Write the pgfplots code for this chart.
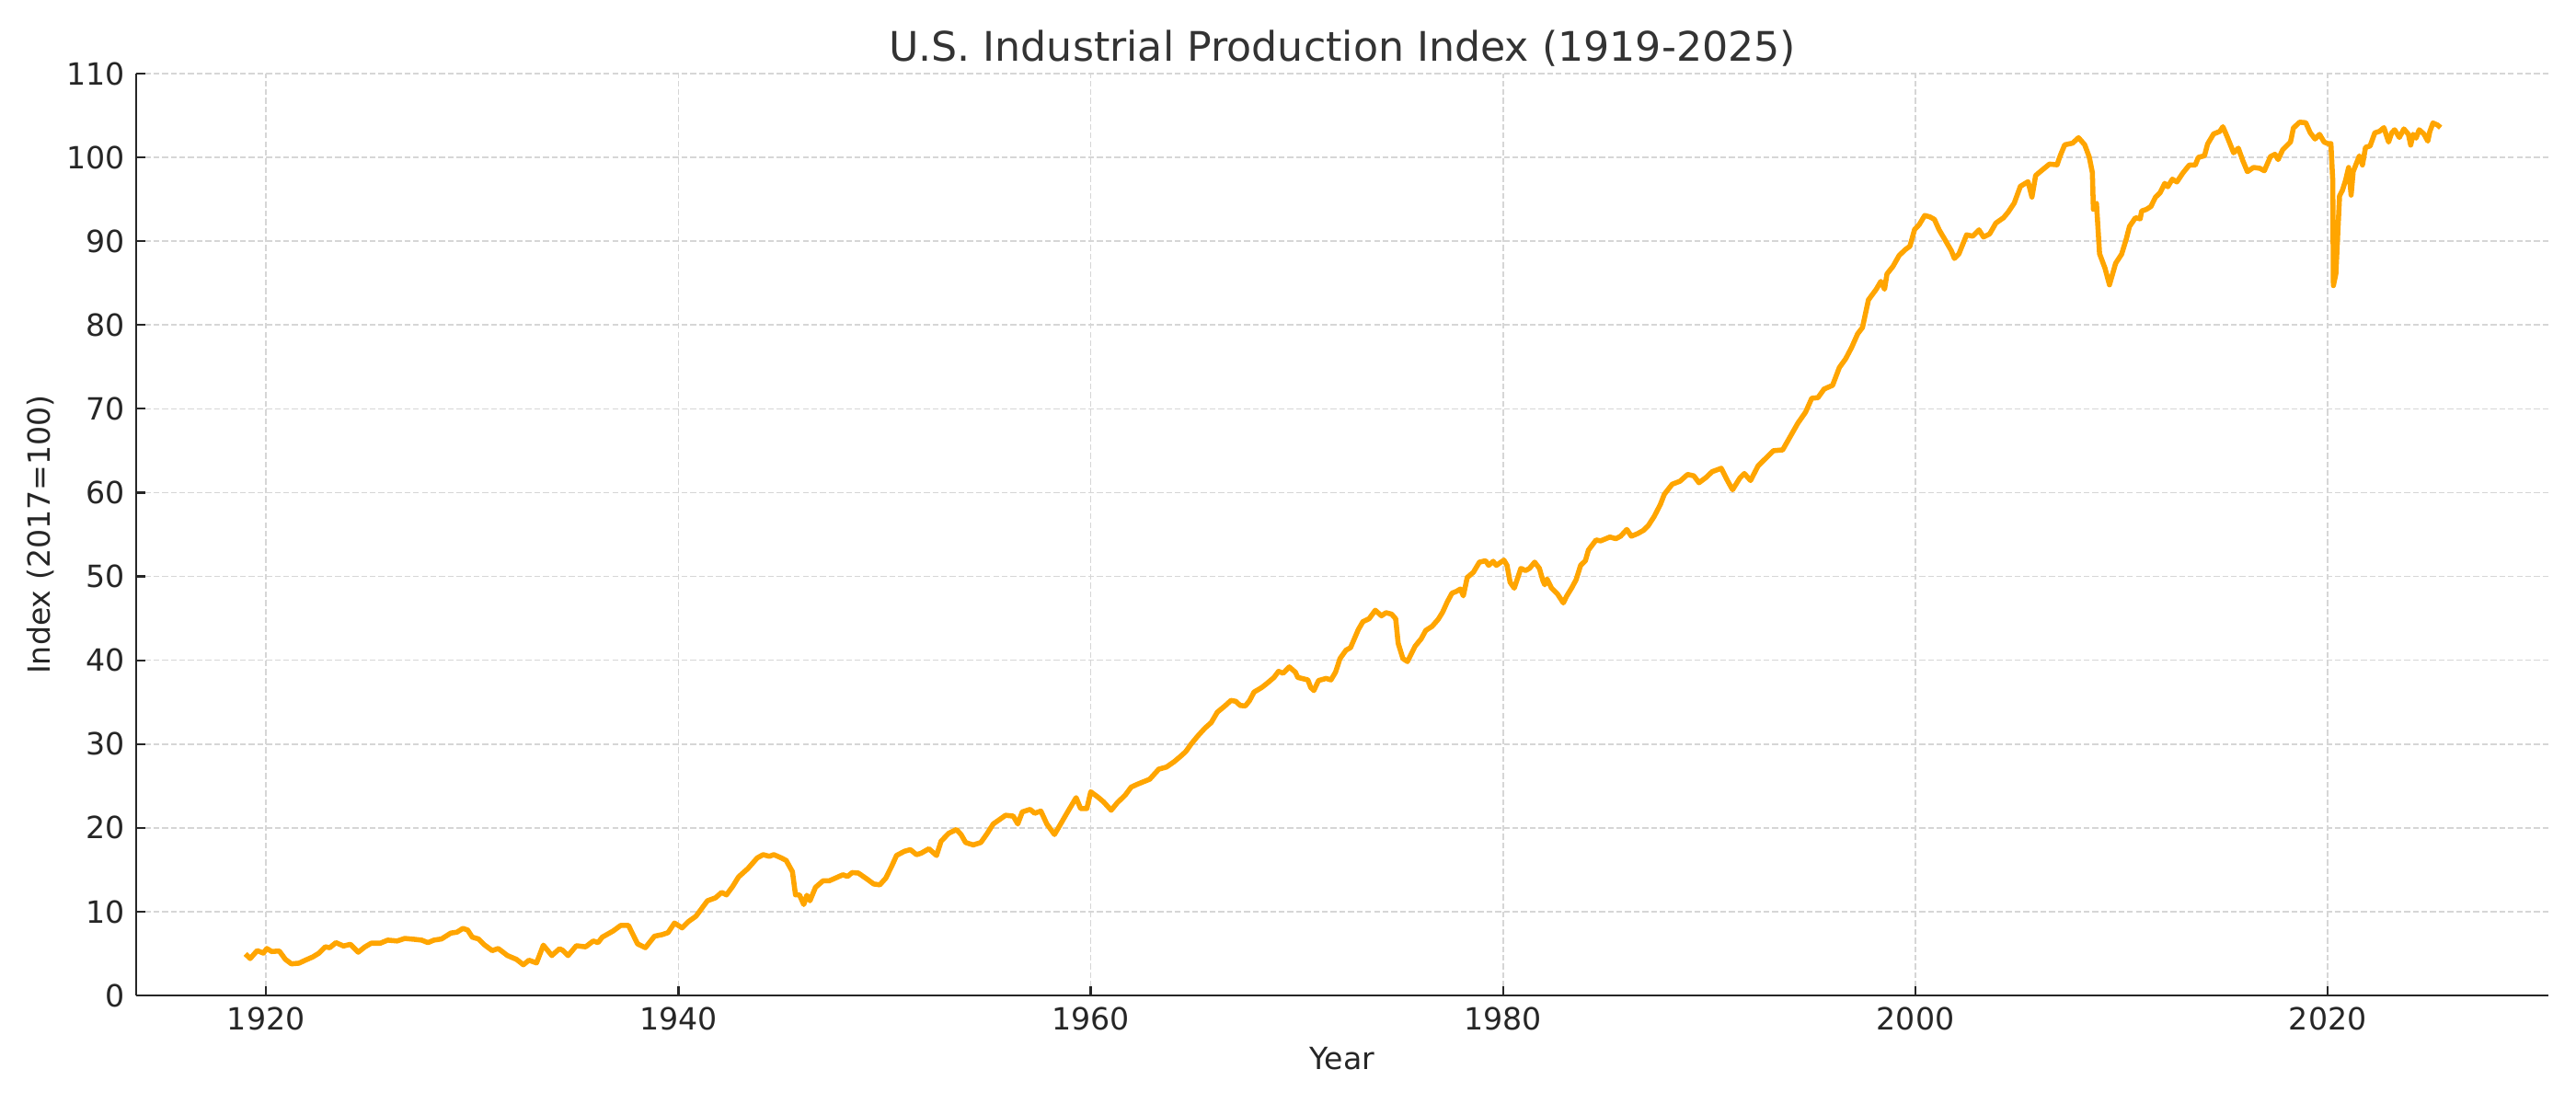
\documentclass[border=0pt]{standalone}
\usepackage{fontspec}
\setmainfont{DejaVu Sans}
\usepackage{pgfplots}
\pgfplotsset{compat=1.18}
\definecolor{lineorange}{HTML}{FFA500}
\definecolor{gridgray}{HTML}{D6D6D6}
\definecolor{spine}{HTML}{262626}
\definecolor{titlegray}{HTML}{333333}

\begin{document}
\begin{tikzpicture}
\useasboundingbox (-0.74in,-0.59in) rectangle (13.26in,5.41in);
\begin{axis}[
    scale only axis,
    width=13.11in, height=5.01in,
    xmin=1913.7, xmax=2030.7,
    ymin=0, ymax=110,
    axis x line*=bottom, axis y line*=left,
    axis line style={line width=0.9pt, spine, -},
    xtick={1920,1940,...,2020},
    ytick={0,10,...,110},
    tick align=inside,
    major tick length=3.6pt,
    tick style={line width=0.8pt, spine},
    grid=major,
    major grid style={gridgray, line width=0.6pt, dash pattern=on 2.3pt off 1.1pt},
    /pgf/number format/1000 sep={},
    /pgf/number format/assume math mode=true,
    ticklabel style={font=\fontsize{12}{14}\selectfont, text=spine},
    xticklabel style={inner sep=0pt, yshift=-4.3pt},
    yticklabel style={inner sep=0pt, xshift=-4.2pt},
    title={U.S. Industrial Production Index (1919-2025)},
    title style={font=\fontsize{16}{19}\selectfont, text=titlegray, inner sep=0pt,
        anchor=base, at={(axis description cs:0.5,1)}, yshift=-1pt},
    xlabel={Year},
    xlabel style={font=\fontsize{12}{14}\selectfont, text=spine, inner sep=0pt,
        anchor=north, at={(axis description cs:0.5,-0.0559)}},
    ylabel={Index (2017=100)},
    ylabel style={font=\fontsize{12}{14}\selectfont, text=spine, inner sep=0pt,
        anchor=south, at={(axis description cs:-0.0336,0.5)}},
]
% index values, roughly every few months
\addplot[lineorange, line width=2pt, line join=round, mark=none] coordinates {
(1919.00,4.95) (1919.23,4.4) (1919.57,5.35) (1919.87,5.05) (1920.04,5.6)
(1920.27,5.24) (1920.64,5.3) (1920.94,4.3) (1921.23,3.77) (1921.60,3.85)
(1921.90,4.2) (1922.27,4.6) (1922.57,5.05) (1922.87,5.8) (1923.09,5.7)
(1923.39,6.3) (1923.76,5.9) (1924.09,6.1) (1924.47,5.16) (1924.80,5.8)
(1925.10,6.23) (1925.54,6.23) (1925.90,6.6) (1926.36,6.5) (1926.73,6.8)
(1927.18,6.7) (1927.55,6.6) (1927.85,6.3) (1928.14,6.6) (1928.51,6.74)
(1928.96,7.44) (1929.26,7.55) (1929.55,8.0) (1929.78,7.8) (1930.00,6.96)
(1930.30,6.74) (1930.59,6.04) (1930.97,5.35) (1931.26,5.6) (1931.71,4.76)
(1932.15,4.3) (1932.48,3.66) (1932.75,4.2) (1933.12,3.88) (1933.45,6.0)
(1933.86,4.76) (1934.23,5.57) (1934.38,5.4) (1934.65,4.76) (1935.05,5.93)
(1935.50,5.8) (1935.87,6.5) (1936.10,6.3) (1936.31,6.96) (1936.84,7.7)
(1937.20,8.35) (1937.58,8.35) (1938.02,6.15) (1938.40,5.7) (1938.84,7.07)
(1939.20,7.25) (1939.50,7.5) (1939.81,8.64) (1940.18,8.06) (1940.48,8.8)
(1940.85,9.45) (1941.41,11.3) (1941.80,11.65) (1942.10,12.3) (1942.33,12.0)
(1942.63,13.0) (1942.92,14.15) (1943.37,15.14) (1943.82,16.4) (1944.11,16.8)
(1944.41,16.6) (1944.63,16.8) (1945.00,16.4) (1945.23,16.1) (1945.53,14.77)
(1945.68,12.0) (1945.87,12.0) (1946.08,10.85) (1946.23,11.95) (1946.38,11.3)
(1946.65,12.9) (1947.01,13.67) (1947.31,13.67) (1947.61,14.0) (1947.98,14.4)
(1948.20,14.2) (1948.43,14.66) (1948.73,14.6) (1949.17,13.85) (1949.47,13.3)
(1949.77,13.2) (1950.06,14.0) (1950.36,15.5) (1950.58,16.7) (1950.96,17.2)
(1951.25,17.4) (1951.55,16.8) (1951.77,16.97) (1952.15,17.5) (1952.52,16.7)
(1952.74,18.4) (1953.11,19.35) (1953.49,19.8) (1953.71,19.2) (1953.93,18.25)
(1954.30,17.96) (1954.67,18.25) (1954.97,19.3) (1955.27,20.46) (1955.64,21.1)
(1955.87,21.5) (1956.24,21.4) (1956.46,20.46) (1956.68,21.9) (1957.06,22.2)
(1957.28,21.74) (1957.58,22.0) (1957.87,20.46) (1958.24,19.2) (1958.54,20.46)
(1958.84,21.74) (1959.29,23.6) (1959.51,22.3) (1959.81,22.3) (1960.00,24.3)
(1960.33,23.7) (1960.62,23.1) (1960.99,22.1) (1961.29,23.0) (1961.67,23.9)
(1961.96,24.86) (1962.26,25.2) (1962.86,25.8) (1963.30,27.0) (1963.67,27.25)
(1964.05,27.9) (1964.34,28.5) (1964.61,29.1) (1964.87,30.0) (1965.17,30.9)
(1965.54,31.9) (1965.84,32.55) (1966.14,33.8) (1966.51,34.55) (1966.80,35.2)
(1967.03,35.1) (1967.25,34.6) (1967.50,34.55) (1967.70,35.17) (1967.92,36.2)
(1968.29,36.74) (1968.52,37.18) (1968.89,37.95) (1969.11,38.67) (1969.33,38.45)
(1969.63,39.2) (1969.93,38.56) (1970.04,37.95) (1970.53,37.65) (1970.67,36.74)
(1970.82,36.38) (1971.05,37.58) (1971.42,37.83) (1971.65,37.65) (1971.87,38.56)
(1972.09,40.2) (1972.38,41.2) (1972.60,41.5) (1972.98,43.67) (1973.20,44.6)
(1973.50,44.95) (1973.80,45.96) (1974.10,45.3) (1974.32,45.67) (1974.59,45.5)
(1974.79,44.95) (1974.91,42.03) (1975.14,40.2) (1975.36,39.84) (1975.73,41.66)
(1976.03,42.57) (1976.25,43.56) (1976.55,44.03) (1976.85,44.87) (1977.07,45.75)
(1977.29,46.95) (1977.52,48.0) (1977.74,48.22) (1977.93,48.5) (1978.07,47.68)
(1978.26,49.87) (1978.56,50.5) (1978.85,51.7) (1979.15,51.87) (1979.30,51.32)
(1979.52,51.8) (1979.67,51.32) (1980.04,51.94) (1980.19,51.32) (1980.34,49.3)
(1980.54,48.6) (1980.86,50.96) (1981.09,50.7) (1981.28,50.96) (1981.53,51.7)
(1981.76,50.96) (1981.93,49.5) (1982.02,49.0) (1982.13,49.7) (1982.35,48.6)
(1982.65,47.86) (1982.92,46.84) (1983.09,47.68) (1983.32,48.6) (1983.54,49.6)
(1983.76,51.32) (1983.99,51.87) (1984.14,53.15) (1984.51,54.35) (1984.73,54.24)
(1985.18,54.7) (1985.47,54.5) (1985.70,54.8) (1986.00,55.6) (1986.22,54.8)
(1986.52,55.1) (1986.81,55.5) (1987.04,56.06) (1987.33,57.16) (1987.63,58.6)
(1987.82,59.8) (1988.20,61.0) (1988.58,61.36) (1988.95,62.17) (1989.25,62.0)
(1989.50,61.18) (1989.84,61.8) (1990.14,62.5) (1990.58,62.9) (1990.88,61.44)
(1991.13,60.34) (1991.48,61.73) (1991.70,62.28) (1992.00,61.44) (1992.37,63.2)
(1992.74,64.1) (1993.11,65.0) (1993.56,65.1) (1993.93,66.7) (1994.30,68.3)
(1994.67,69.6) (1994.97,71.26) (1995.27,71.33) (1995.57,72.36) (1995.98,72.8)
(1996.31,74.93) (1996.61,75.95) (1996.90,77.3) (1997.20,78.96) (1997.43,79.7)
(1997.72,83.0) (1998.10,84.27) (1998.32,85.2) (1998.50,84.27) (1998.62,86.1)
(1998.91,87.0) (1999.21,88.3) (1999.51,89.0) (1999.73,89.4) (1999.96,91.4)
(2000.18,91.97) (2000.45,93.07) (2000.70,92.9) (2000.92,92.6) (2001.15,91.35)
(2001.44,90.14) (2001.74,88.86) (2001.89,87.94) (2002.11,88.5) (2002.48,90.76)
(2002.78,90.6) (2003.08,91.35) (2003.30,90.5) (2003.60,90.87) (2003.90,92.16)
(2004.27,92.8) (2004.49,93.44) (2004.79,94.54) (2005.09,96.55) (2005.46,97.1)
(2005.65,95.27) (2005.83,97.84) (2006.13,98.46) (2006.50,99.2) (2006.87,99.12)
(2007.02,100.2) (2007.24,101.5) (2007.62,101.7) (2007.91,102.35) (2008.21,101.5)
(2008.43,100.04) (2008.58,98.2) (2008.63,93.8) (2008.78,94.5) (2008.93,88.5)
(2009.19,86.8) (2009.41,84.8) (2009.71,87.36) (2010.00,88.46) (2010.23,90.3)
(2010.38,91.76) (2010.67,92.8) (2010.90,92.67) (2010.97,93.6) (2011.20,93.8)
(2011.42,94.14) (2011.64,95.24) (2011.87,95.8) (2012.09,96.9) (2012.24,96.5)
(2012.46,97.4) (2012.68,97.07) (2012.98,98.17) (2013.28,99.08) (2013.57,99.08)
(2013.72,100.0) (2014.02,100.2) (2014.17,101.6) (2014.46,102.8) (2014.76,103.1)
(2014.91,103.66) (2015.13,102.4) (2015.43,100.55) (2015.66,101.1) (2015.88,99.6)
(2016.10,98.3) (2016.40,98.8) (2016.70,98.7) (2016.92,98.4) (2017.22,100.1)
(2017.44,100.37) (2017.59,99.74) (2017.81,100.9) (2018.19,101.83) (2018.33,103.5)
(2018.63,104.2) (2018.93,104.14) (2019.15,102.93) (2019.38,102.2) (2019.60,102.75)
(2019.82,101.83) (2020.00,101.65) (2020.15,101.65) (2020.24,97.25) (2020.27,84.7)
(2020.39,86.1) (2020.57,95.4) (2020.71,96.08) (2020.86,97.25) (2021.01,98.8)
(2021.13,95.5) (2021.23,98.3) (2021.53,100.18) (2021.68,99.1) (2021.83,101.2)
(2022.05,101.36) (2022.28,102.93) (2022.50,103.1) (2022.72,103.55) (2022.95,101.83)
(2023.10,102.93) (2023.24,103.3) (2023.47,102.38) (2023.69,103.4) (2023.91,102.75)
(2024.02,101.47) (2024.14,102.75) (2024.28,102.3) (2024.43,103.3) (2024.66,102.8)
(2024.85,101.94) (2024.95,103.1) (2025.10,104.1) (2025.33,103.85) (2025.47,103.55)
};
\end{axis}
\end{tikzpicture}
\end{document}
